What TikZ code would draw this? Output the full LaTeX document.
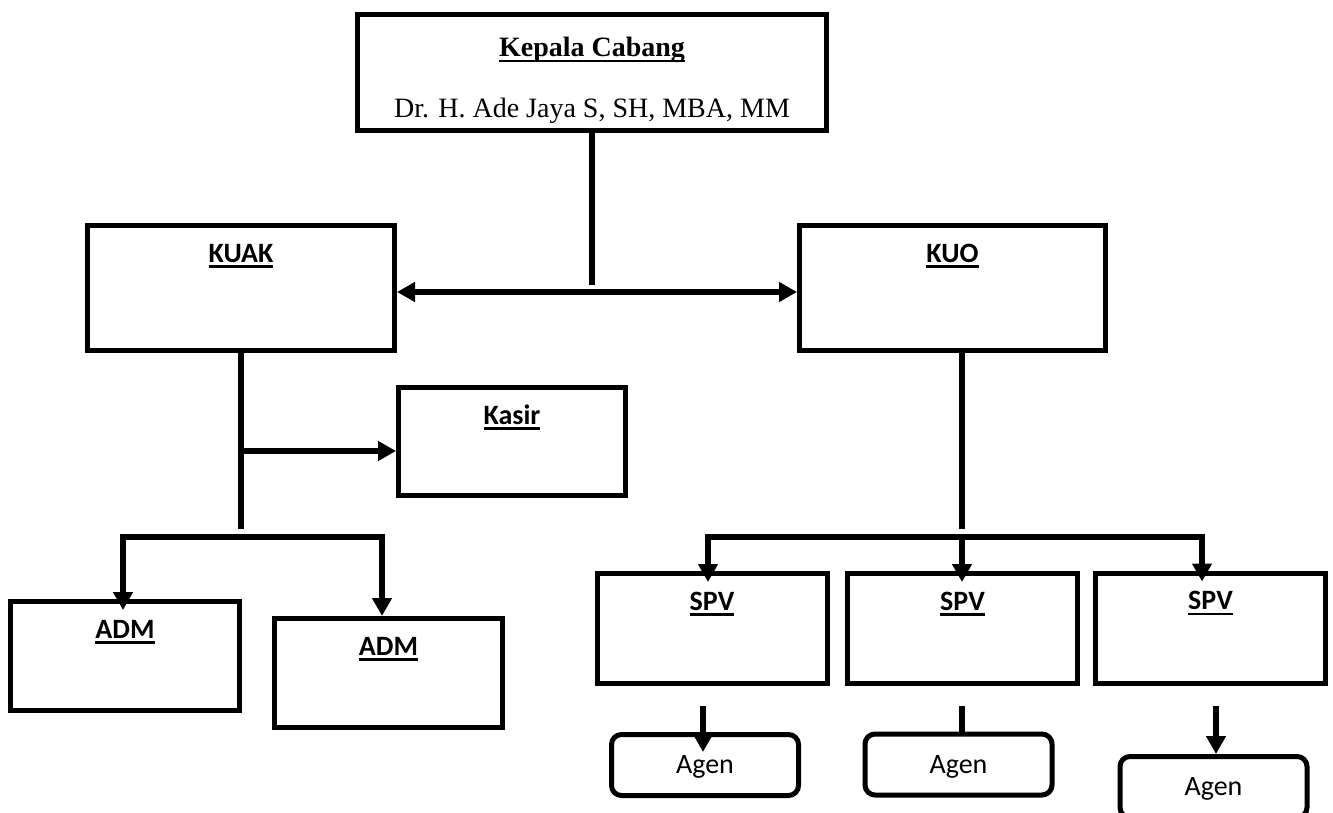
\documentclass[tikz,border=0pt]{standalone}
\usepackage{fontspec}
\setmainfont{Liberation Serif}
\setsansfont{Carlito}
\usetikzlibrary{arrows.meta,calc,positioning}

\newcommand{\ultext}[1]{\setbox0=\hbox{#1}\rlap{\vrule width\wd0 height -3pt depth 5.5pt}\box0}

\begin{document}
\begin{tikzpicture}[x=1pt,y=-1pt,
	box/.style n args={2}{draw,line width=5pt,inner sep=0pt,minimum width=#1,minimum height=#2},
	title/.style={label={[anchor=base,yshift=-39pt,font=\sffamily\bfseries\fontsize{28}{34}\selectfont]north:{\ultext{#1}}}},
	agen/.style={draw,line width=5pt,rounded corners=10pt,inner sep=0pt,minimum width=187pt,minimum height=61pt,text depth=0pt,font=\sffamily\fontsize{28}{34}\selectfont},
	conn/.style={line width=6pt},
	arr/.style={line width=6pt,-{Triangle[length=18pt,width=19pt]}},
	dblarr/.style={line width=6pt,{Triangle[length=18pt,width=19pt]}-{Triangle[length=18pt,width=19pt]}}]
		\useasboundingbox (0,0) rectangle (1333,813);
		% boxes
		\node[box={469pt}{116pt},
			label={[anchor=base,yshift=-45pt,font=\bfseries\fontsize{28}{34}\selectfont]north:{\ultext{Kepala Cabang}}},
			label={[anchor=base,yshift=-106pt,font=\fontsize{28}{34}\selectfont]north:{Dr. H. Ade Jaya S, SH, MBA, MM}}] (kepala) at (592,72.5) {};
		\node[box={307pt}{125pt},title=KUAK] (kuak) at (241,288) {};
		\node[box={306pt}{125pt},title=KUO] (kuo) at (952.5,288) {};
		\node[box={227pt}{108pt},title=Kasir] (kasir) at (512,441.5) {};
		\node[box={229pt}{109pt},title=ADM] (adm1) at (125,656) {};
		\node[box={228pt}{109pt},title=ADM] (adm2) at (388.5,673) {};
		\foreach \i/\x/\y in {1/712/628.5,2/962.5/628.5,3/1210.5/628}
			\node[box={230pt}{110pt},title=SPV] (spv\i) at (\x,\y) {};
		\node[agen] (agen1) at (705,765) {Agen};
		\node[agen] (agen2) at (958.5,764.5) {Agen};
		\node[agen] (agen3) at (1213.5,787) {Agen};
		% kepala to kuak and kuo
		\coordinate (hub) at (592,285);
		\coordinate (mid) at (592,292);
		\draw[conn] (kepala.south) -- (hub);
		\draw[dblarr] (kuak.east |- mid) -- (kuo.west |- mid);
		% kuak side
		\coordinate (kuakend) at (242,529);
		\coordinate (kasirj) at (242,451);
		\draw[conn] (kuak.south) -- (kuak.south |- kuakend);
		\draw[arr] (kuak.south |- kasirj) -- (kasir.west |- kasirj);
		\coordinate (d1) at (123,537);
		\coordinate (d2) at (382,537);
		\draw[conn,line cap=rect] (d1) -- (d2);
		\draw[arr] (d1) -- ($(d1 |- adm1.north)+(0,11)$);
		\draw[arr] (d2) -- (d2 |- adm2.north);
		% kuo side
		\coordinate (s1) at (708,537);
		\coordinate (s2) at (962,537);
		\coordinate (s3) at (1202,537);
		\draw[conn] (s2 |- kuo.south) -- ($(s2)+(0,-8)$);
		\draw[conn,line cap=rect] (s1) -- (s3);
		\foreach \i in {1,2,3}
			\draw[arr] (s\i) -- ($(s\i |- spv\i.north)+(0,11)$);
		% spv to agen
		\coordinate (a1) at (703,706);
		\coordinate (a2) at (962,706);
		\coordinate (a3) at (1216,706);
		\draw[arr] (a1) -- ($(a1 |- agen1.north)+(0,20)$);
		\draw[conn] (a2) -- (a2 |- agen2.north);
		\draw[arr] (a3) -- (a3 |- agen3.north);
		\end{tikzpicture}
\end{document}
